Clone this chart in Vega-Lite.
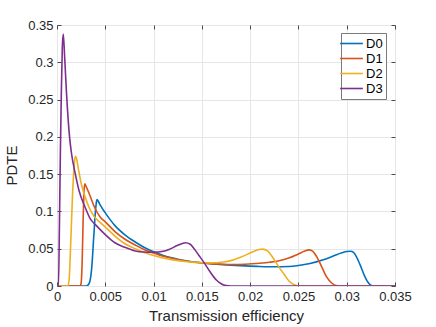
{
  "$schema": "https://vega.github.io/schema/vega-lite/v6.json",
  "autosize": {"type": "none"},
  "padding": {"left": 57, "top": 25, "right": 41, "bottom": 41},
  "width": 338,
  "height": 261,
  "background": "white",
  "config": {
    "view": {"stroke": "#5a5a5a", "strokeWidth": 1},
    "axis": {
      "labelFont": "Liberation Sans",
      "titleFont": "Liberation Sans",
      "labelFontSize": 13,
      "titleFontSize": 15,
      "titleFontWeight": "normal",
      "labelColor": "#262626",
      "titleColor": "#262626",
      "domain": false,
      "tickColor": "#4a4a4a",
      "tickSize": -4,
      "gridColor": "#e6e6e6",
      "gridWidth": 1,
      "labelFlush": false,
      "labelOverlap": false,
      "labelBound": false
    },
    "legend": {
      "labelFont": "Liberation Sans",
      "labelFontSize": 13,
      "labelColor": "#000000"
    }
  },
  "data": {
    "values": [
      {"s":"D0","x":0,"y":0},{"s":"D0","x":0.003,"y":0},{"s":"D0","x":0.0032,"y":0.001},{"s":"D0","x":0.0034,"y":0.006},{"s":"D0","x":0.0036,"y":0.025},{"s":"D0","x":0.0038,"y":0.065},{"s":"D0","x":0.004,"y":0.103},{"s":"D0","x":0.0041,"y":0.114},{"s":"D0","x":0.00415,"y":0.116},{"s":"D0","x":0.0043,"y":0.113},{"s":"D0","x":0.0045,"y":0.108},{"s":"D0","x":0.005,"y":0.098},{"s":"D0","x":0.0055,"y":0.089},{"s":"D0","x":0.006,"y":0.081},{"s":"D0","x":0.007,"y":0.069},{"s":"D0","x":0.0081,"y":0.059},{"s":"D0","x":0.009,"y":0.052},{"s":"D0","x":0.01,"y":0.0458},{"s":"D0","x":0.011,"y":0.041},{"s":"D0","x":0.012,"y":0.0375},{"s":"D0","x":0.0135,"y":0.0335},{"s":"D0","x":0.015,"y":0.031},{"s":"D0","x":0.0165,"y":0.0293},{"s":"D0","x":0.018,"y":0.028},{"s":"D0","x":0.0195,"y":0.027},{"s":"D0","x":0.021,"y":0.0262},{"s":"D0","x":0.0225,"y":0.0258},{"s":"D0","x":0.024,"y":0.0262},{"s":"D0","x":0.025,"y":0.0275},{"s":"D0","x":0.0262,"y":0.0302},{"s":"D0","x":0.0275,"y":0.0348},{"s":"D0","x":0.0285,"y":0.0395},{"s":"D0","x":0.0295,"y":0.0445},{"s":"D0","x":0.03,"y":0.0462},{"s":"D0","x":0.0304,"y":0.0465},{"s":"D0","x":0.0307,"y":0.045},{"s":"D0","x":0.031,"y":0.0395},{"s":"D0","x":0.0314,"y":0.028},{"s":"D0","x":0.0318,"y":0.015},{"s":"D0","x":0.0322,"y":0.005},{"s":"D0","x":0.0325,"y":0.001},{"s":"D0","x":0.0328,"y":0},{"s":"D0","x":0.035,"y":0},
      {"s":"D1","x":0,"y":0},{"s":"D1","x":0.0024,"y":0},{"s":"D1","x":0.0025,"y":0.004},{"s":"D1","x":0.0026,"y":0.03},{"s":"D1","x":0.0027,"y":0.085},{"s":"D1","x":0.0028,"y":0.127},{"s":"D1","x":0.00288,"y":0.137},{"s":"D1","x":0.003,"y":0.134},{"s":"D1","x":0.0032,"y":0.128},{"s":"D1","x":0.00345,"y":0.12},{"s":"D1","x":0.0038,"y":0.108},{"s":"D1","x":0.0045,"y":0.092},{"s":"D1","x":0.005,"y":0.086},{"s":"D1","x":0.006,"y":0.073},{"s":"D1","x":0.007,"y":0.063},{"s":"D1","x":0.0081,"y":0.055},{"s":"D1","x":0.009,"y":0.049},{"s":"D1","x":0.01,"y":0.0443},{"s":"D1","x":0.011,"y":0.04},{"s":"D1","x":0.012,"y":0.0368},{"s":"D1","x":0.0135,"y":0.0332},{"s":"D1","x":0.015,"y":0.0308},{"s":"D1","x":0.0165,"y":0.0295},{"s":"D1","x":0.018,"y":0.0288},{"s":"D1","x":0.0195,"y":0.0292},{"s":"D1","x":0.021,"y":0.0305},{"s":"D1","x":0.022,"y":0.0318},{"s":"D1","x":0.023,"y":0.0338},{"s":"D1","x":0.024,"y":0.0375},{"s":"D1","x":0.025,"y":0.043},{"s":"D1","x":0.0256,"y":0.0465},{"s":"D1","x":0.0261,"y":0.0485},{"s":"D1","x":0.0265,"y":0.0465},{"s":"D1","x":0.0269,"y":0.039},{"s":"D1","x":0.0274,"y":0.026},{"s":"D1","x":0.0279,"y":0.0125},{"s":"D1","x":0.02845,"y":0.004},{"s":"D1","x":0.0289,"y":0.0005},{"s":"D1","x":0.0293,"y":0},{"s":"D1","x":0.035,"y":0},
      {"s":"D2","x":0,"y":0},{"s":"D2","x":0.0011,"y":0},{"s":"D2","x":0.00125,"y":0.008},{"s":"D2","x":0.0014,"y":0.05},{"s":"D2","x":0.0016,"y":0.12},{"s":"D2","x":0.0018,"y":0.165},{"s":"D2","x":0.0019,"y":0.174},{"s":"D2","x":0.002,"y":0.172},{"s":"D2","x":0.0022,"y":0.158},{"s":"D2","x":0.0025,"y":0.138},{"s":"D2","x":0.0029,"y":0.12},{"s":"D2","x":0.0033,"y":0.106},{"s":"D2","x":0.0038,"y":0.094},{"s":"D2","x":0.0045,"y":0.085},{"s":"D2","x":0.005,"y":0.079},{"s":"D2","x":0.006,"y":0.067},{"s":"D2","x":0.007,"y":0.057},{"s":"D2","x":0.0081,"y":0.05},{"s":"D2","x":0.009,"y":0.045},{"s":"D2","x":0.01,"y":0.041},{"s":"D2","x":0.011,"y":0.0375},{"s":"D2","x":0.012,"y":0.035},{"s":"D2","x":0.0135,"y":0.0325},{"s":"D2","x":0.015,"y":0.0312},{"s":"D2","x":0.016,"y":0.031},{"s":"D2","x":0.0172,"y":0.0322},{"s":"D2","x":0.018,"y":0.034},{"s":"D2","x":0.019,"y":0.0385},{"s":"D2","x":0.0203,"y":0.046},{"s":"D2","x":0.0209,"y":0.049},{"s":"D2","x":0.0213,"y":0.0495},{"s":"D2","x":0.0218,"y":0.047},{"s":"D2","x":0.0222,"y":0.041},{"s":"D2","x":0.0226,"y":0.033},{"s":"D2","x":0.023,"y":0.025},{"s":"D2","x":0.0235,"y":0.016},{"s":"D2","x":0.024,"y":0.007},{"s":"D2","x":0.0245,"y":0.002},{"s":"D2","x":0.025,"y":0},{"s":"D2","x":0.035,"y":0},
      {"s":"D3","x":0,"y":0},{"s":"D3","x":0.00015,"y":0},{"s":"D3","x":0.00025,"y":0.08},{"s":"D3","x":0.00035,"y":0.18},{"s":"D3","x":0.00045,"y":0.26},{"s":"D3","x":0.00055,"y":0.32},{"s":"D3","x":0.00065,"y":0.338},{"s":"D3","x":0.0008,"y":0.305},{"s":"D3","x":0.001,"y":0.255},{"s":"D3","x":0.0013,"y":0.2},{"s":"D3","x":0.0015,"y":0.178},{"s":"D3","x":0.0019,"y":0.15},{"s":"D3","x":0.0023,"y":0.127},{"s":"D3","x":0.0029,"y":0.106},{"s":"D3","x":0.00345,"y":0.09},{"s":"D3","x":0.004,"y":0.082},{"s":"D3","x":0.005,"y":0.069},{"s":"D3","x":0.006,"y":0.058},{"s":"D3","x":0.007,"y":0.052},{"s":"D3","x":0.0081,"y":0.047},{"s":"D3","x":0.009,"y":0.0455},{"s":"D3","x":0.01,"y":0.0452},{"s":"D3","x":0.011,"y":0.0465},{"s":"D3","x":0.0116,"y":0.049},{"s":"D3","x":0.0125,"y":0.0545},{"s":"D3","x":0.0133,"y":0.058},{"s":"D3","x":0.0138,"y":0.056},{"s":"D3","x":0.0142,"y":0.05},{"s":"D3","x":0.0147,"y":0.041},{"s":"D3","x":0.0153,"y":0.03},{"s":"D3","x":0.0159,"y":0.018},{"s":"D3","x":0.0165,"y":0.008},{"s":"D3","x":0.017,"y":0.003},{"s":"D3","x":0.0175,"y":0.0005},{"s":"D3","x":0.018,"y":0},{"s":"D3","x":0.035,"y":0}
    ]
  },
  "layer": [
    {
      "mark": {"type": "line", "strokeWidth": 1.6, "interpolate": "monotone", "clip": true},
      "encoding": {
        "x": {
          "field": "x", "type": "quantitative",
          "scale": {"domain": [0, 0.035], "nice": false, "zero": false},
          "axis": {
            "orient": "bottom",
            "values": [0, 0.005, 0.01, 0.015, 0.02, 0.025, 0.03, 0.035],
            "format": "~g",
            "title": "Transmission efficiency",
            "labelPadding": 8,
            "titlePadding": 5
          }
        },
        "y": {
          "field": "y", "type": "quantitative",
          "scale": {"domain": [0, 0.35], "nice": false, "zero": false},
          "axis": {
            "orient": "left",
            "values": [0, 0.05, 0.1, 0.15, 0.2, 0.25, 0.3, 0.35],
            "format": "~g",
            "title": "PDTE",
            "labelPadding": 8,
            "titlePadding": 8,
            "titleY": 140
          }
        },
        "color": {
          "field": "s", "type": "nominal",
          "scale": {"domain": ["D0", "D1", "D2", "D3"], "range": ["#0072BD", "#D95319", "#EDB120", "#7E2F8E"]},
          "legend": {
            "title": null,
            "orient": "none",
            "legendX": 284,
            "legendY": 8,
            "padding": 3,
            "fillColor": "white",
            "strokeColor": "#7a7a7a",
            "symbolType": "M-1.75,0H1.75",
            "symbolSize": 169,
            "symbolStrokeWidth": 1.6,
            "rowPadding": 0,
            "labelOffset": 7
          }
        }
      }
    },
    {
      "mark": {"type": "line", "opacity": 0},
      "encoding": {
        "x": {
          "field": "x", "type": "quantitative",
          "axis": {"orient": "top", "values": [0, 0.005, 0.01, 0.015, 0.02, 0.025, 0.03, 0.035], "labels": false, "grid": false, "title": null}
        },
        "y": {
          "field": "y", "type": "quantitative",
          "axis": {"orient": "right", "values": [0, 0.05, 0.1, 0.15, 0.2, 0.25, 0.3, 0.35], "labels": false, "grid": false, "title": null}
        },
        "detail": {"field": "s"}
      }
    }
  ],
  "resolve": {"axis": {"x": "independent", "y": "independent"}}
}
